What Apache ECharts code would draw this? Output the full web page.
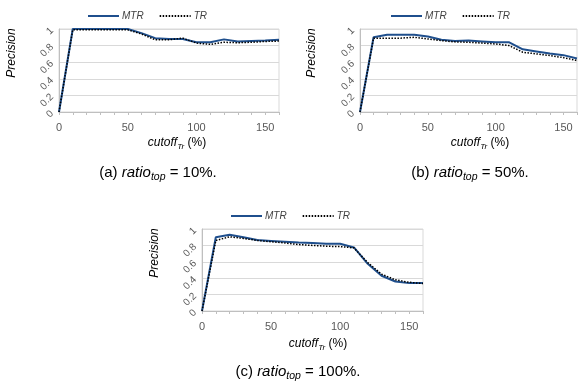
<!DOCTYPE html>
<html>
<head>
<meta charset="utf-8">
<script src="https://cdn.jsdelivr.net/npm/echarts@6/dist/echarts.min.js"></script>
<style>
  html, body { margin: 0; padding: 0; background: #fff; }
  #chart { width: 580px; height: 384px; }
</style>
</head>
<body>
<div id="chart"></div>
<script>
// cutoff_Tr (%) values, one point every 10
const cutoffs = [0, 10, 20, 30, 40, 50, 60, 70, 80, 90, 100, 110, 120, 130, 140, 150, 160]

// (a) ratio_top = 10%
const mtrA = [0, 1, 1, 1, 1, 1, 0.95, 0.89, 0.88, 0.88, 0.84, 0.84, 0.875, 0.85, 0.855, 0.86, 0.87]
const trA = [0, 0.99, 0.99, 0.99, 0.99, 0.99, 0.94, 0.87, 0.87, 0.89, 0.83, 0.815, 0.84, 0.835, 0.84, 0.85, 0.855]

// (b) ratio_top = 50%
const mtrB = [0, 0.9, 0.93, 0.93, 0.93, 0.91, 0.87, 0.855, 0.86, 0.85, 0.84, 0.84, 0.755, 0.73, 0.705, 0.685, 0.645]
const trB = [0, 0.89, 0.89, 0.89, 0.9, 0.88, 0.86, 0.845, 0.84, 0.83, 0.82, 0.8, 0.72, 0.7, 0.68, 0.655, 0.62]

// (c) ratio_top = 100%
const mtrC = [0, 0.9, 0.93, 0.9, 0.865, 0.855, 0.845, 0.835, 0.83, 0.82, 0.82, 0.775, 0.575, 0.43, 0.36, 0.34, 0.34]
const trC = [0, 0.86, 0.905, 0.885, 0.86, 0.845, 0.83, 0.81, 0.8, 0.79, 0.785, 0.77, 0.59, 0.45, 0.38, 0.35, 0.335]

const seriesNames = ['MTR', 'TR']
const panelLetters = ['(a)', '(b)', '(c)']
const panelRatios = ['10%', '50%', '100%']
const yTicks = [0, 0.2, 0.4, 0.6, 0.8, 1]
const xLabelStep = 50

const panels = [
  { mtr: mtrA, tr: trA, grid: { left: 59, top: 29, width: 220, height: 83 }, legend: [87, 11], yTitle: [12, 53], xTitle: [177, 144], caption: [158, 174] },
  { mtr: mtrB, tr: trB, grid: { left: 360, top: 29, width: 219, height: 83 }, legend: [390, 11], yTitle: [312, 53], xTitle: [480, 144], caption: [470, 174] },
  { mtr: mtrC, tr: trC, grid: { left: 202, top: 229, width: 221, height: 82 }, legend: [230, 211], yTitle: [155, 253], xTitle: [318, 345], caption: [298, 373] },
]

const FONT = '"Liberation Sans", Arial, sans-serif'
const BLUE = '#1f4f8d'

function pairs(values) {
  return cutoffs.map((c, k) => [c, values[k]])
}

const grids = panels.map((p) => ({ ...p.grid, show: true, borderColor: '#d9d9d9', borderWidth: 1, backgroundColor: 'transparent' }))

const xAxes = panels.map((p, i) => ({
  type: 'value',
  gridIndex: i,
  min: 0,
  max: 160,
  interval: 10,
  axisLine: { show: true, lineStyle: { color: '#bfbfbf' } },
  axisTick: { show: true, length: 3, lineStyle: { color: '#bfbfbf' } },
  splitLine: { show: false },
  axisLabel: {
    margin: 10,
    fontFamily: FONT,
    fontSize: 11,
    color: '#595959',
    formatter: (v) => (v % xLabelStep === 0 && v < 160 ? String(v) : ''),
  },
}))

const yAxes = panels.map((p, i) => ({
  type: 'value',
  gridIndex: i,
  min: yTicks[0],
  max: yTicks[yTicks.length - 1],
  interval: 0.2,
  axisLine: { show: true, lineStyle: { color: '#bfbfbf' } },
  axisTick: { show: false },
  splitLine: { show: true, lineStyle: { color: '#d9d9d9' } },
  axisLabel: {
    margin: 7,
    rotate: 45,
    fontFamily: FONT,
    fontSize: 10,
    color: '#595959',
  },
}))

const series = []
panels.forEach((p, i) => {
  series.push({
    name: seriesNames[0],
    type: 'line',
    xAxisIndex: i,
    yAxisIndex: i,
    symbol: 'none',
    data: pairs(p.mtr),
    lineStyle: { color: BLUE, width: 2 },
    itemStyle: { color: BLUE },
  })
  series.push({
    name: seriesNames[1],
    type: 'line',
    xAxisIndex: i,
    yAxisIndex: i,
    symbol: 'none',
    data: pairs(p.tr),
    lineStyle: { color: '#000', width: 1.5, type: [1.5, 1.5] },
    itemStyle: { color: '#000' },
  })
})

const legends = panels.map((p) => ({
  data: seriesNames,
  left: p.legend[0],
  top: p.legend[1],
  padding: 0,
  itemWidth: 31,
  itemHeight: 10,
  itemGap: 15,
  itemStyle: { opacity: 0 },
  textStyle: { fontFamily: FONT, fontSize: 10, fontStyle: 'italic', color: '#404040', padding: [0, 0, 0, -2] },
  selectedMode: false,
}))

const richBase = {
  n: { fontFamily: FONT, fontSize: 15, color: '#000', lineHeight: 17, verticalAlign: 'top' },
  i: { fontFamily: FONT, fontSize: 15, fontStyle: 'italic', color: '#000', lineHeight: 17, verticalAlign: 'top' },
  s: { fontFamily: FONT, fontSize: 10.5, fontStyle: 'italic', color: '#000', lineHeight: 12, verticalAlign: 'bottom', padding: [9, 0, 0, 0] },
}

const richAxis = {
  i: { fontFamily: FONT, fontSize: 12, fontStyle: 'italic', color: '#000', lineHeight: 14, verticalAlign: 'top' },
  n: { fontFamily: FONT, fontSize: 12, color: '#000', lineHeight: 14, verticalAlign: 'top' },
  s: { fontFamily: FONT, fontSize: 8, fontStyle: 'italic', color: '#000', lineHeight: 9, verticalAlign: 'bottom', padding: [7, 0, 0, 0] },
}

const graphics = []
panels.forEach((p, i) => {
  graphics.push({
    type: 'text',
    x: p.yTitle[0],
    y: p.yTitle[1],
    rotation: Math.PI / 2,
    style: { text: 'Precision', font: 'italic 12px ' + FONT, fill: '#000', align: 'center', verticalAlign: 'middle' },
  })
  graphics.push({
    type: 'text',
    x: p.xTitle[0],
    y: p.xTitle[1],
    style: { text: '{i|cutoff}{s|Tr}{n| (%)}', rich: richAxis, align: 'center', verticalAlign: 'middle' },
  })
  graphics.push({
    type: 'text',
    x: p.caption[0],
    y: p.caption[1],
    style: {
      text: '{n|' + panelLetters[i] + ' }{i|ratio}{s|top}{n| = ' + panelRatios[i] + '.}',
      rich: richBase,
      align: 'center',
      verticalAlign: 'middle',
    },
  })
})

const chart = echarts.init(document.getElementById('chart'))
chart.setOption({
  animation: false,
  backgroundColor: '#fff',
  grid: grids,
  xAxis: xAxes,
  yAxis: yAxes,
  legend: legends,
  series,
  graphic: graphics,
})
</script>
</body>
</html>
